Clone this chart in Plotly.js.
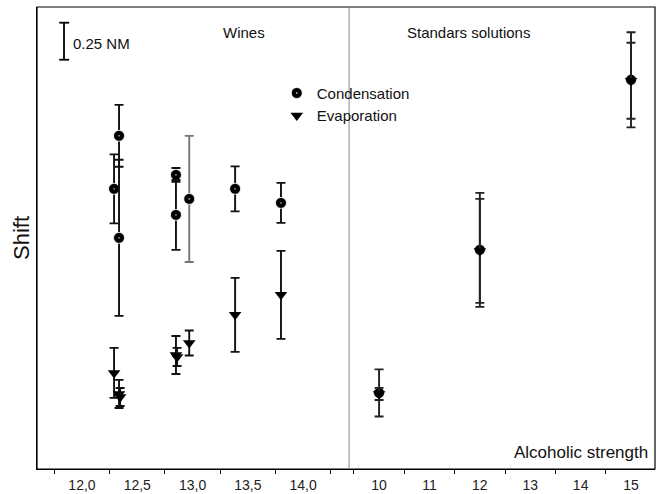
<!DOCTYPE html>
<html>
<head>
<meta charset="utf-8">
<script src="https://cdn.plot.ly/plotly-3.0.1.min.js"></script>
<style>html,body{margin:0;padding:0;background:#fff;}#chart{width:665px;height:494px;}</style>
</head>
<body>
<div id="chart"></div>
<script>
// ---- Data (shift in NM) ----
// Wines (x = alcoholic strength, %)
const condWinesX   = [12.29, 12.335, 12.335, 12.85, 12.85, 12.97, 13.385, 13.80];
const condWinesY   = [1.892, 2.250, 1.561, 1.986, 1.716, 1.824, 1.892, 1.797];
const condWinesErr = [0.233, 0.209, 0.527, 0.047, 0.236, 0.426, 0.152, 0.135];

const evapWinesX   = [12.29, 12.335, 12.345, 12.85, 12.86, 12.97, 13.385, 13.80];
const evapWinesY   = [0.649, 0.507, 0.486, 0.770, 0.757, 0.851, 1.041, 1.176];
const evapWinesErr = [0.169, 0.095, 0.061, 0.128, 0.061, 0.084, 0.250, 0.297];

// Standard solutions
const condStdX   = [10, 12, 15];
const condStdY   = [0.514, 1.480, 2.628];
const condStdErr = [0.159, 0.385, 0.321];

const evapStdX   = [10, 12, 15];
const evapStdY   = [0.507, 1.473, 2.622];
const evapStdErr = [0.041, 0.351, 0.257];

const winesTicks = [12.0, 12.5, 13.0, 13.5, 14.0];
const stdTicks   = [10, 11, 12, 13, 14, 15];
const scaleBarNM = 0.25;

// ---- Styling ----
const FONT = '"Liberation Sans", Arial, sans-serif';
const condGrey = [false, false, false, false, false, true, false, false];

const traces = [];
function addSeries(name, xs, ys, errs, xaxis, symbol, size, greyFlags, showLegendFirst) {
  xs.forEach((x, i) => {
    const grey = greyFlags && greyFlags[i];
    const isCircle = symbol === 'circle-dot';
    traces.push({
      type: 'scatter', mode: 'markers',
      x: [x], y: [ys[i]],
      xaxis: xaxis, yaxis: 'y',
      name: name, legendgroup: name,
      showlegend: showLegendFirst && i === 0,
      marker: {symbol: symbol, size: size, color: '#000',
               line: {color: isCircle ? '#fff' : '#000', width: isCircle ? 0.8 : 0}},
      error_y: {type: 'data', array: [errs[i]], visible: true,
                color: grey ? '#777' : (xaxis === 'x2' ? '#222' : '#111'),
                thickness: 1.9, width: 4.5},
      hoverinfo: 'x+y'
    });
  });
}
addSeries('Condensation', condWinesX, condWinesY, condWinesErr, 'x', 'circle-dot', 11, condGrey, true);
addSeries('Condensation', condStdX, condStdY, condStdErr, 'x2', 'circle-dot', 11, null, false);
addSeries('Evaporation', evapWinesX, evapWinesY, evapWinesErr, 'x', 'triangle-down', 11, null, true);
addSeries('Evaporation', evapStdX, evapStdY, evapStdErr, 'x2', 'triangle-down', 11, null, false);

const split = 0.505;
const yBarBottom = 2.764;

const layout = {
  width: 665, height: 494,
  margin: {l: 37, r: 10, t: 7, b: 25},
  paper_bgcolor: '#fff', plot_bgcolor: '#fff',
  font: {family: FONT, color: '#111', size: 15},
  separators: ',.',
  showlegend: true,
  legend: {x: 0.388, y: 0.849, xanchor: 'left', yanchor: 'top',
           bgcolor: 'rgba(0,0,0,0)', font: {size: 15, family: FONT, color: '#111'},
           tracegroupgap: 0, itemwidth: 30},
  xaxis: {domain: [0, split], range: [11.593, 14.416], anchor: 'y',
          tickvals: winesTicks, tickformat: '.1f', ticks: '',
          showgrid: false, zeroline: false, showline: true, linecolor: '#000', linewidth: 1.2,
          tickfont: {size: 14, family: FONT, color: '#222'},
          minor: {tickvals: [11.75, 12.25, 12.75, 13.25, 13.75, 14.25], ticks: 'outside', ticklen: 4, tickcolor: '#000', tickwidth: 1, showgrid: false},
          ticklabelstandoff: 3},
  xaxis2: {domain: [split, 1], range: [9.405, 15.476], anchor: 'y',
          tickvals: stdTicks, tickformat: 'd', ticks: '',
          showgrid: false, zeroline: false, showline: true, linecolor: '#000', linewidth: 1.2,
          tickfont: {size: 14, family: FONT, color: '#222'},
          minor: {tickvals: [9.5, 10.5, 11.5, 12.5, 13.5, 14.5], ticks: 'outside', ticklen: 4, tickcolor: '#000', tickwidth: 1, showgrid: false},
          ticklabelstandoff: 3},
  yaxis: {range: [0, 3.12], showticklabels: false, ticks: '', showgrid: false, zeroline: false,
          showline: true, linecolor: '#000', linewidth: 1.2,
          title: {text: 'Shift', font: {size: 22, family: FONT, color: '#111'}, standoff: 0}},
  shapes: [
    {type: 'rect', xref: 'paper', yref: 'paper', x0: 0, x1: 1, y0: 0, y1: 1, line: {color: '#000', width: 1.2}},
    {type: 'line', xref: 'paper', yref: 'paper', x0: split, x1: split, y0: 0, y1: 1, line: {color: '#888', width: 1}},
    // scale bar
    {type: 'line', xref: 'paper', yref: 'y', x0: 0.0437, x1: 0.0437, y0: yBarBottom, y1: yBarBottom + scaleBarNM, line: {color: '#000', width: 1.8}},
    {type: 'line', xref: 'paper', yref: 'y', x0: 0.036, x1: 0.052, y0: yBarBottom, y1: yBarBottom, line: {color: '#000', width: 1.8}},
    {type: 'line', xref: 'paper', yref: 'y', x0: 0.036, x1: 0.052, y0: yBarBottom + scaleBarNM, y1: yBarBottom + scaleBarNM, line: {color: '#000', width: 1.8}}
  ],
  annotations: [
    {text: 'Wines', xref: 'paper', yref: 'paper', x: 0.335, y: 0.944, xanchor: 'center', yanchor: 'middle', showarrow: false, font: {size: 15}},
    {text: 'Standars solutions', xref: 'paper', yref: 'paper', x: 0.699, y: 0.944, xanchor: 'center', yanchor: 'middle', showarrow: false, font: {size: 15}},
    {text: 'Alcoholic strength', xref: 'paper', yref: 'paper', x: 0.992, y: 0.035, xanchor: 'right', yanchor: 'middle', showarrow: false, font: {size: 17}},
    {text: '0.25 NM', xref: 'paper', yref: 'paper', x: 0.055, y: 0.92, xanchor: 'left', yanchor: 'middle', showarrow: false, font: {size: 15}}
  ]
};

Plotly.newPlot('chart', traces, layout, {displayModeBar: false, staticPlot: true});
</script>
</body>
</html>
